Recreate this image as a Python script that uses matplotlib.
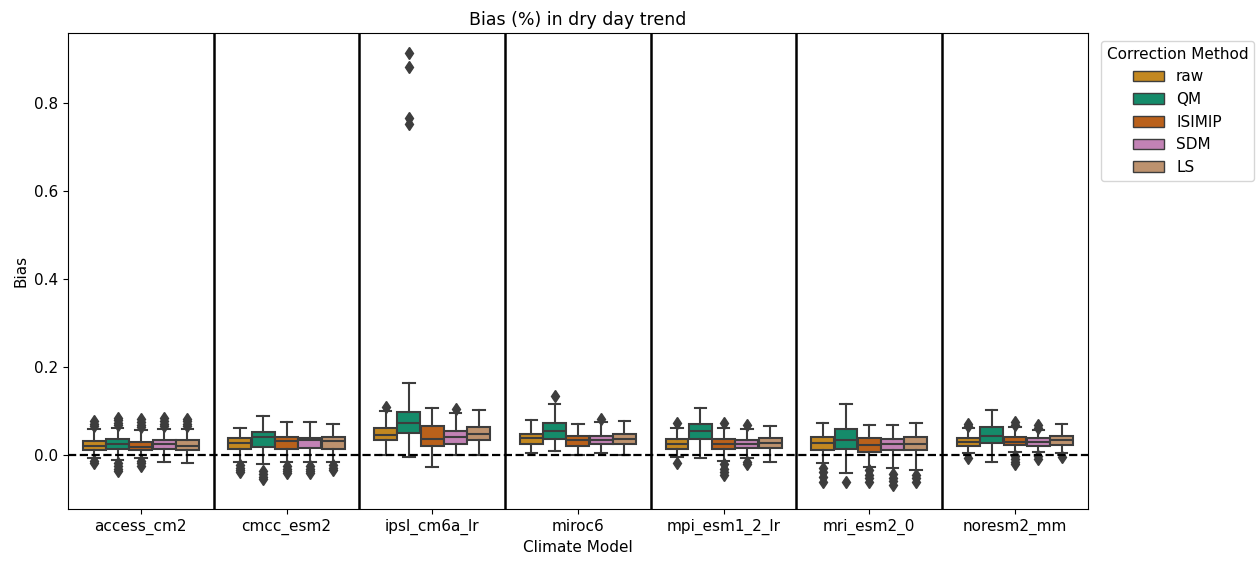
import colorsys
import matplotlib
matplotlib.use("Agg")
import matplotlib.pyplot as plt
from matplotlib.patches import Patch

# climate models on the x axis and the bias-correction methods (hue)
models = ["access_cm2", "cmcc_esm2", "ipsl_cm6a_lr", "miroc6",
          "mpi_esm1_2_lr", "mri_esm2_0", "noresm2_mm"]
methods = ["raw", "QM", "ISIMIP", "SDM", "LS"]

# box statistics, rows = methods, cols = models
q1 = [
    [0.0125, 0.015, 0.034, 0.026, 0.015, 0.0125, 0.022],
    [0.014, 0.020, 0.052, 0.037, 0.037, 0.014, 0.029],
    [0.0125, 0.015, 0.0215, 0.022, 0.014, 0.0086, 0.024],
    [0.014, 0.016, 0.025, 0.025, 0.016, 0.0125, 0.022],
    [0.0125, 0.015, 0.035, 0.025, 0.016, 0.0125, 0.024],
]
med = [
    [0.022, 0.0276, 0.046, 0.039, 0.025, 0.028, 0.031],
    [0.025, 0.041, 0.074, 0.056, 0.056, 0.034, 0.044],
    [0.0195, 0.032, 0.037, 0.035, 0.025, 0.024, 0.031],
    [0.025, 0.034, 0.041, 0.035, 0.025, 0.025, 0.031],
    [0.022, 0.032, 0.048, 0.037, 0.029, 0.025, 0.035],
]
q3 = [
    [0.0336, 0.040, 0.062, 0.049, 0.037, 0.041, 0.039],
    [0.0374, 0.054, 0.099, 0.074, 0.071, 0.060, 0.064],
    [0.031, 0.042, 0.067, 0.045, 0.037, 0.039, 0.041],
    [0.035, 0.040, 0.056, 0.044, 0.036, 0.037, 0.039],
    [0.034, 0.042, 0.064, 0.048, 0.040, 0.043, 0.045],
]
wlo = [
    [-0.006, -0.014, 0.000, 0.005, -0.003, -0.018, 0.005],
    [-0.010, -0.020, -0.004, 0.010, -0.006, -0.040, -0.015],
    [-0.006, -0.015, -0.025, 0.001, -0.012, -0.025, 0.009],
    [-0.014, -0.015, 0.001, 0.006, -0.006, -0.029, 0.008],
    [-0.018, -0.014, 0.000, 0.002, -0.014, -0.033, 0.005],
]
whi = [
    [0.060, 0.063, 0.101, 0.080, 0.062, 0.073, 0.062],
    [0.063, 0.090, 0.165, 0.116, 0.107, 0.117, 0.103],
    [0.057, 0.077, 0.107, 0.071, 0.062, 0.069, 0.064],
    [0.060, 0.077, 0.097, 0.077, 0.060, 0.068, 0.058],
    [0.060, 0.071, 0.103, 0.079, 0.067, 0.073, 0.071],
]
fliers = [
    [[0.066, 0.072, 0.078, -0.012, -0.018], [-0.022, -0.028, -0.034, -0.038],
     [0.110], [], [0.074, -0.018], [-0.028, -0.038, -0.048, -0.060], [0.067, 0.072, -0.006]],
    [[0.068, 0.074, 0.080, 0.085, -0.018, -0.024, -0.030, -0.035], [-0.036, -0.042, -0.048, -0.054],
     [0.913, 0.881, 0.765, 0.752], [0.135], [], [-0.060], []],
    [[0.064, 0.070, 0.076, 0.083, -0.012, -0.018, -0.024], [-0.024, -0.030, -0.036, -0.040],
     [], [], [0.074, -0.020, -0.030, -0.038, -0.045], [-0.034, -0.044, -0.052, -0.060],
     [0.070, 0.076, -0.002, -0.008, -0.014, -0.020]],
    [[0.066, 0.072, 0.078, 0.085], [-0.024, -0.030, -0.036, -0.040],
     [0.105], [0.082], [0.070, -0.014, -0.020], [-0.042, -0.050, -0.058, -0.066],
     [0.062, 0.068, -0.002, -0.008]],
    [[0.066, 0.072, 0.078, 0.082], [-0.022, -0.028, -0.034],
     [], [], [], [-0.044, -0.052, -0.060], [-0.004]],
]

palette = ["#DE8F05", "#029E73", "#D55E00", "#CC78BC", "#CA9161"]


def desat(c, prop=0.75):
    r, g, b = matplotlib.colors.to_rgb(c)
    h, l, s = colorsys.rgb_to_hls(r, g, b)
    return colorsys.hls_to_rgb(h, l, s * prop)


colors = [desat(c) for c in palette]
gray = "#3d3d3d"

fig = plt.figure(figsize=(12.59, 5.61), dpi=100)
ax = fig.add_axes([0.054, 0.093, 0.810, 0.848])

n = len(methods)
width = 0.8 / n
for i in range(n):
    stats = []
    for j in range(len(models)):
        stats.append(dict(med=med[i][j], q1=q1[i][j], q3=q3[i][j],
                          whislo=wlo[i][j], whishi=whi[i][j], fliers=fliers[i][j]))
    pos = [j - 0.4 + width * (i + 0.5) for j in range(len(models))]
    ax.bxp(stats, positions=pos, widths=width * 0.98, patch_artist=True,
           boxprops=dict(facecolor=colors[i], edgecolor=gray, linewidth=1.5),
           medianprops=dict(color=gray, linewidth=1.5),
           whiskerprops=dict(color=gray, linewidth=1.5),
           capprops=dict(color=gray, linewidth=1.5),
           flierprops=dict(marker="d", markerfacecolor=gray, markeredgecolor=gray,
                           markersize=6, linestyle="none"),
           manage_ticks=False)

for k in range(len(models) - 1):
    ax.axvline(k + 0.5, color="black", linewidth=1.8)
ax.axhline(0, color="black", linestyle="--", linewidth=1.6)

ax.set_xlim(-0.5, len(models) - 0.5)
ax.set_ylim(-0.121, 0.958)
ax.set_xticks(range(len(models)))
ax.set_xticklabels(models, fontsize=11)
ax.tick_params(axis="y", labelsize=11)
ax.set_xlabel("Climate Model", fontsize=11)
ax.set_ylabel("Bias", fontsize=11)
ax.set_title("Bias (%) in dry day trend", fontsize=12.5)

handles = [Patch(facecolor=colors[i], edgecolor=gray, label=methods[i]) for i in range(n)]
ax.legend(handles=handles, title="Correction Method", loc="upper left",
          bbox_to_anchor=(1.005, 1.0), fontsize=11, title_fontsize=11)

fig.savefig("out.png", dpi=100)
